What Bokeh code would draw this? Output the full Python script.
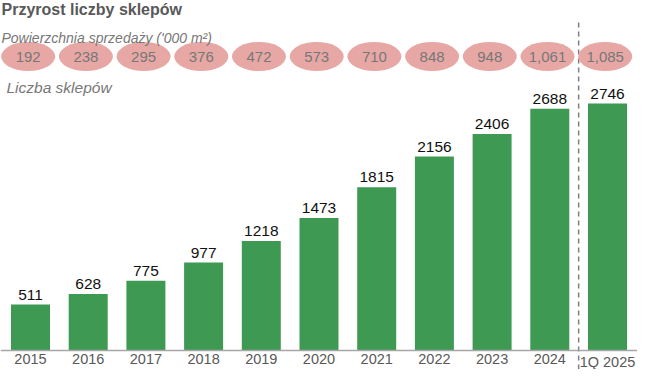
from bokeh.plotting import figure
from bokeh.models import Range1d, Span, Label, ColumnDataSource
from bokeh.core.properties import value
from bokeh.embed import file_html
from bokeh.resources import INLINE

# ---- data ----
years = ["2015", "2016", "2017", "2018", "2019", "2020", "2021", "2022", "2023", "2024", "1Q 2025"]
stores = [511, 628, 775, 977, 1218, 1473, 1815, 2156, 2406, 2688, 2746]
area = [192, 238, 295, 376, 472, 573, 710, 848, 948, 1061, 1085]
title_text = "Przyrost liczby sklepów"
subtitle_text = "Powierzchnia sprzedaży ('000 m²)"
stores_title = "Liczba sklepów"

# ---- styling / layout constants ----
W, H = 637, 369
FONT = "Liberation Sans"
BAR_GREEN = "#3e9a52"
PINK = "#e7a8a5"
GREY_TXT = "#595959"
LIGHT_TXT = "#777777"

# pixel layout -> data ranges
PX_X = 57.7          # px per category
X0_PX = 30.0         # centre of first category
BASE_PX = 350.0      # baseline from top
PX_Y = 247.0 / 2746  # px per store
x_start = -X0_PX / PX_X
x_end = x_start + W / PX_X
y_start = -(H - BASE_PX) / PX_Y
y_end = BASE_PX / PX_Y

idx = list(range(len(years)))
src = ColumnDataSource(dict(
    x=idx,
    years=years,
    stores=stores,
    stores_lbl=[str(v) for v in stores],
    xe=[i - 0.04 for i in idx],
    area_lbl=[f"{v:,}" for v in area],
))

p = figure(width=W, height=H,
           x_range=Range1d(x_start, x_end), y_range=Range1d(y_start, y_end),
           output_backend="svg", toolbar_location=None, min_border=0,
           x_axis_type=None, y_axis_type=None, outline_line_color=None,
           background_fill_color="white", border_fill_color="white")
p.xgrid.visible = False
p.ygrid.visible = False

# bars
p.vbar(x="x", top="stores", bottom=0, width=39 / PX_X, source=src,
       fill_color=BAR_GREEN, line_color=None)

# value labels
p.text(x="x", y="stores", text="stores_lbl", source=src,
       text_align="center", text_baseline="alphabetic", y_offset=-10,
       text_font=value(FONT), text_font_size="15.5px", text_color="#111111")

# baseline
p.add_layout(Span(location=0, dimension="width", line_color="#a6a6a6", line_width=1.5))

# year labels (category axis labels)
p.text(x="x", y=0, text="years", source=src,
       text_align="center", text_baseline="top", y_offset=3,
       text_font=value(FONT), text_font_size="14.5px", text_color=GREY_TXT)

# separator between full years and the quarter
sep = len(years) - 1.5
p.segment(x0=[sep], y0=[y_start], x1=[sep], y1=[(BASE_PX - 20) / PX_Y],
          line_color="#7f7f7f", line_width=1.5, line_dash="5 4")

# sales area ellipses
ell_y = (BASE_PX - 56) / PX_Y
p.ellipse(x="xe", y=ell_y, width=54, height=29, source=src,
          width_units="screen", height_units="screen",
          fill_color=PINK, line_color=None)
p.text(x="xe", y=ell_y, text="area_lbl", source=src,
       text_align="center", text_baseline="middle",
       text_font=value(FONT), text_font_size="15px", text_color=LIGHT_TXT)

# titles
p.add_layout(Label(x=1, y=H, x_units="screen", y_units="screen",
                   text=title_text, text_baseline="top",
                   text_font=FONT, text_font_size="16px", text_font_style="bold",
                   text_color=GREY_TXT))
p.add_layout(Label(x=1, y=H - 37, x_units="screen", y_units="screen",
                   text=subtitle_text, text_baseline="alphabetic",
                   text_font=FONT, text_font_size="14px", text_font_style="italic",
                   text_color=LIGHT_TXT))
p.add_layout(Label(x=6, y=H - 87, x_units="screen", y_units="screen",
                   text=stores_title, text_baseline="alphabetic",
                   text_font=FONT, text_font_size="15.5px", text_font_style="italic",
                   text_color=LIGHT_TXT))

open("out.html", "w").write(file_html(p, INLINE))
